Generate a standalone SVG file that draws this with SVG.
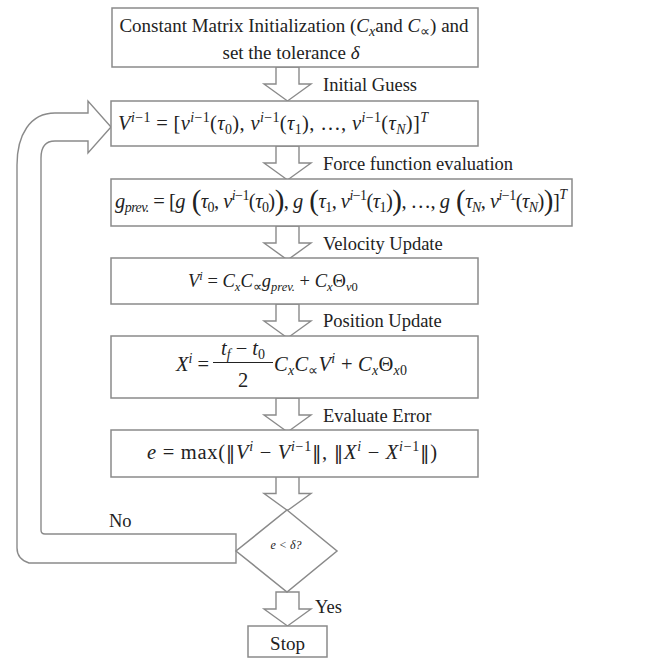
<svg xmlns="http://www.w3.org/2000/svg" width="660" height="659" viewBox="0 0 660 659">
  <style>
    .box { fill: #ffffff; stroke: #8a8a8a; stroke-width: 1.5; }
    .arr { fill: #ffffff; stroke: #8a8a8a; stroke-width: 1.4; stroke-linejoin: miter; }
    .t { font-family: "Liberation Serif", "Times New Roman", serif; font-size: 19px; fill: #222222; }
    .m { font-family: "Liberation Serif", "Times New Roman", serif; font-size: 20.5px; fill: #222222; }
    .lbl { font-family: "Liberation Serif", "Times New Roman", serif; font-size: 18.5px; fill: #222222; }
    .it { font-style: italic; }
    .s { font-size: 14px; }
    .big { font-size: 29px; }
    .nrm { font-family: "DejaVu Serif", serif; font-size: 19px; }
    .vel { font-size: 18.5px; }
    .vel .s { font-size: 12.5px; }
  </style>
  <defs>
    <!-- block arrow pointing down, shaft top at y=0, tip at y=34 -->
    <polygon id="down" points="-11.5,0 -11.5,17 -23.5,17 0,34 23.5,17 11.5,17 11.5,0"/>
  </defs>

  <rect width="660" height="659" fill="#ffffff"/>

  <!-- connectors -->
  <g id="connectors">
    <use href="#down" class="arr" x="287.5" y="67"/>
    <use href="#down" class="arr" x="287.5" y="146"/>
    <use href="#down" class="arr" x="287.5" y="226"/>
    <use href="#down" class="arr" x="287.5" y="304"/>
    <use href="#down" class="arr" x="287.5" y="398"/>
    <use href="#down" class="arr" x="287.5" y="476.5"/>
    <use href="#down" class="arr" x="287.5" y="592"/>
    <!-- loop-back arrow from the decision to the iterate -->
    <path class="arr" d="M236,534 L45,534 Q41,534 41,530 L41,158 C41,147 45,141 55,141 L88,141 L88,153 L111,127 L88,101 L88,113 L55,113 C30,113 17,135 17,165 L17,548 Q17,559 29,563 L236,563 Z"/>
    <text class="lbl" x="323" y="91">Initial Guess</text>
    <text class="lbl" x="323" y="170">Force function evaluation</text>
    <text class="lbl" x="323" y="250">Velocity Update</text>
    <text class="lbl" x="323" y="327">Position Update</text>
    <text class="lbl" x="323" y="422">Evaluate Error</text>
    <text class="lbl" x="315" y="613">Yes</text>
    <text class="lbl" x="109" y="527">No</text>
  </g>

  <!-- initialization -->
  <g id="init">
    <rect class="box" x="112" y="8" width="366" height="59"/>
    <text class="t" x="294" y="32" text-anchor="middle">Constant Matrix Initialization (<tspan class="it">C</tspan><tspan class="s it" dy="4">x</tspan><tspan dy="-4">and </tspan><tspan class="it">C</tspan><tspan class="s" dy="4">∝</tspan><tspan dy="-4">) and</tspan></text>
    <text class="t" x="291" y="59" text-anchor="middle">set the tolerance <tspan class="it">δ</tspan></text>
  </g>

  <!-- previous velocity iterate -->
  <g id="v-prev">
    <rect class="box" x="111" y="101" width="367" height="45"/>
    <text class="m" x="118" y="130" textLength="310" lengthAdjust="spacing"><tspan class="it">V</tspan><tspan class="s" dy="-8"><tspan class="it">i</tspan>−1</tspan><tspan dy="8"> = [</tspan><tspan class="it">v</tspan><tspan class="s" dy="-8"><tspan class="it">i</tspan>−1</tspan><tspan dy="8">(</tspan><tspan class="it">τ</tspan><tspan class="s" dy="4">0</tspan><tspan dy="-4">), </tspan><tspan class="it">v</tspan><tspan class="s" dy="-8"><tspan class="it">i</tspan>−1</tspan><tspan dy="8">(</tspan><tspan class="it">τ</tspan><tspan class="s" dy="4">1</tspan><tspan dy="-4">), …, </tspan><tspan class="it">v</tspan><tspan class="s" dy="-8"><tspan class="it">i</tspan>−1</tspan><tspan dy="8">(</tspan><tspan class="it">τ</tspan><tspan class="s it" dy="4">N</tspan><tspan dy="-4">)]</tspan><tspan class="s it" dy="-8">T</tspan></text>
  </g>

  <!-- force function evaluation -->
  <g id="g-prev">
    <rect class="box" x="111" y="179" width="461" height="47"/>
    <text class="m" x="115" y="208" textLength="452" lengthAdjust="spacing"><tspan class="it">g</tspan><tspan class="s it" dy="4">prev.</tspan><tspan dy="-4"> = [</tspan><tspan class="it">g</tspan><tspan class="big" dy="2"> (</tspan><tspan dy="-2" class="it">τ</tspan><tspan class="s" dy="4">0</tspan><tspan dy="-4">, </tspan><tspan class="it">v</tspan><tspan class="s" dy="-8"><tspan class="it">i</tspan>−1</tspan><tspan dy="8">(</tspan><tspan class="it">τ</tspan><tspan class="s" dy="4">0</tspan><tspan dy="-4">)</tspan><tspan class="big" dy="2">)</tspan><tspan dy="-2">, </tspan><tspan class="it">g</tspan><tspan class="big" dy="2"> (</tspan><tspan dy="-2" class="it">τ</tspan><tspan class="s" dy="4">1</tspan><tspan dy="-4">, </tspan><tspan class="it">v</tspan><tspan class="s" dy="-8"><tspan class="it">i</tspan>−1</tspan><tspan dy="8">(</tspan><tspan class="it">τ</tspan><tspan class="s" dy="4">1</tspan><tspan dy="-4">)</tspan><tspan class="big" dy="2">)</tspan><tspan dy="-2">, …, </tspan><tspan class="it">g</tspan><tspan class="big" dy="2"> (</tspan><tspan dy="-2" class="it">τ</tspan><tspan class="s it" dy="4">N</tspan><tspan dy="-4">, </tspan><tspan class="it">v</tspan><tspan class="s" dy="-8"><tspan class="it">i</tspan>−1</tspan><tspan dy="8">(</tspan><tspan class="it">τ</tspan><tspan class="s it" dy="4">N</tspan><tspan dy="-4">)</tspan><tspan class="big" dy="2">)</tspan><tspan dy="-2">]</tspan><tspan class="s it" dy="-9">T</tspan></text>
  </g>

  <!-- velocity update -->
  <g id="velocity">
    <rect class="box" x="111" y="258" width="367" height="46"/>
    <text class="m vel" x="188" y="287"><tspan class="it">V</tspan><tspan class="s it" dy="-7">i</tspan><tspan dy="7"> = </tspan><tspan class="it">C</tspan><tspan class="s it" dy="4">x</tspan><tspan dy="-4" class="it">C</tspan><tspan class="s" dy="4">∝</tspan><tspan dy="-4" class="it">g</tspan><tspan class="s it" dy="4">prev.</tspan><tspan dy="-4"> + </tspan><tspan class="it">C</tspan><tspan class="s it" dy="4">x</tspan><tspan dy="-4">Θ</tspan><tspan class="s" dy="4"><tspan class="it">v</tspan>0</tspan></text>
  </g>

  <!-- position update -->
  <g id="position">
    <rect class="box" x="111" y="336" width="367" height="62"/>
    <text class="m" x="176" y="371"><tspan class="it">X</tspan><tspan class="s it" dy="-8">i</tspan><tspan dy="8"> =</tspan></text>
    <text class="m" x="243" y="355" text-anchor="middle"><tspan class="it">t</tspan><tspan class="s it" dy="4">f</tspan><tspan dy="-4"> − </tspan><tspan class="it">t</tspan><tspan class="s" dy="4">0</tspan></text>
    <line x1="213" y1="362.5" x2="273" y2="362.5" stroke="#222222" stroke-width="1.1"/>
    <text class="m" x="243" y="387" text-anchor="middle">2</text>
    <text class="m" x="274" y="371" textLength="133" lengthAdjust="spacing"><tspan class="it">C</tspan><tspan class="s it" dy="4">x</tspan><tspan dy="-4" class="it">C</tspan><tspan class="s" dy="4">∝</tspan><tspan dy="-4" class="it">V</tspan><tspan class="s it" dy="-8">i</tspan><tspan dy="8"> + </tspan><tspan class="it">C</tspan><tspan class="s it" dy="4">x</tspan><tspan dy="-4">Θ</tspan><tspan class="s" dy="4"><tspan class="it">x</tspan>0</tspan></text>
  </g>

  <!-- error evaluation -->
  <g id="error">
    <rect class="box" x="111" y="430" width="367" height="47"/>
    <text class="m" x="147" y="459" textLength="290" lengthAdjust="spacing"><tspan class="it">e</tspan> = max(<tspan class="nrm">‖</tspan><tspan class="it">V</tspan><tspan class="s it" dy="-8">i</tspan><tspan dy="8"> − </tspan><tspan class="it">V</tspan><tspan class="s" dy="-8"><tspan class="it">i</tspan>−1</tspan><tspan dy="8" class="nrm">‖</tspan>, <tspan class="nrm">‖</tspan><tspan class="it">X</tspan><tspan class="s it" dy="-8">i</tspan><tspan dy="8"> − </tspan><tspan class="it">X</tspan><tspan class="s" dy="-8"><tspan class="it">i</tspan>−1</tspan><tspan dy="8" class="nrm">‖</tspan>)</text>
  </g>

  <!-- convergence test -->
  <g id="decision">
    <polygon class="box" points="287,510 337,551 287,592 236,551"/>
    <text x="286" y="549" text-anchor="middle" font-family="Liberation Serif, serif" font-size="12" font-style="italic" fill="#222222">e &lt; δ?</text>
  </g>

  <!-- termination -->
  <g id="stop">
    <rect class="box" x="248" y="626" width="79" height="31"/>
    <text class="t" x="287.5" y="650" text-anchor="middle">Stop</text>
  </g>
</svg>
